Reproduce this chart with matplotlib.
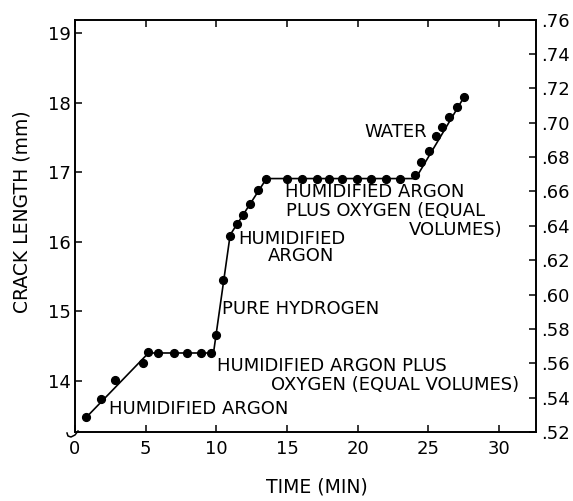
import matplotlib
matplotlib.use("Agg")
import matplotlib.pyplot as plt
from matplotlib.lines import Line2D

# ---- data ----
time_pts = [0.78, 1.81, 2.85, 4.80, 5.18, 5.89, 7.00, 7.95, 8.93, 9.60,
            9.97, 10.47, 10.96, 11.45, 11.86, 12.41, 12.95, 13.55,
            15.02, 16.05, 17.12, 18.00, 18.92, 19.99, 20.98, 21.99, 23.02,
            24.08, 24.50, 25.05, 25.58, 25.95, 26.47, 27.00, 27.55]
crack_pts = [13.48, 13.74, 14.01, 14.26, 14.41, 14.40, 14.40, 14.40, 14.40, 14.40,
             14.66, 15.45, 16.09, 16.26, 16.39, 16.54, 16.75, 16.91,
             16.91, 16.91, 16.91, 16.91, 16.91, 16.91, 16.91, 16.91, 16.91,
             16.96, 17.15, 17.31, 17.52, 17.65, 17.79, 17.94, 18.09]

# fitted piecewise line
fit_t = [0.78, 5.20, 9.80, 10.98, 13.55, 24.10, 27.55]
fit_c = [13.47, 14.40, 14.40, 16.10, 16.91, 16.91, 18.09]

x_ticks = [0, 5, 10, 15, 20, 25, 30]
y_ticks = [14, 15, 16, 17, 18, 19]
r_ticks = [0.52, 0.54, 0.56, 0.58, 0.60, 0.62, 0.64, 0.66, 0.68, 0.70, 0.72, 0.74, 0.76]
r_labels = ['.52', '.54', '.56', '.58', '.60', '.62', '.64', '.66', '.68', '.70', '.72', '.74', '.76']

plt.rcParams['font.family'] = ['DejaVu Sans']
FS = 13

W, H = 573, 501
fig = plt.figure(figsize=(W / 100, H / 100), dpi=100)
L, R, T, B = 75.0, 535.7, 19.5, 432.0
ax = fig.add_axes([L / W, 1 - B / H, (R - L) / W, (B - T) / H])

ax.plot(fit_t, fit_c, color='black', lw=1.2, zorder=2)
ax.plot(time_pts, crack_pts, 'o', color='black', ms=5.6, zorder=3)

ax.set_xlim(0, 32.6)
ax.set_ylim(13.263, 19.199)
ax.set_xticks(x_ticks)
ax.set_xticklabels([str(v) for v in x_ticks])
ax.set_yticks(y_ticks)
ax.set_yticklabels([str(v) for v in y_ticks])

for s in ax.spines.values():
    s.set_linewidth(1.2)

ax.tick_params(axis='x', direction='in', top=True, length=5, width=1.1,
               labelsize=FS, pad=6)
ax.tick_params(axis='y', direction='in', length=5, width=1.1,
               labelsize=FS, pad=3)

ax2 = ax.twinx()
ax2.set_ylim(0.52, 0.76)
ax2.set_yticks(r_ticks)
ax2.set_yticklabels(r_labels)
ax2.tick_params(axis='y', direction='in', length=5, width=1.1,
                labelsize=FS, pad=4)
for s in ax2.spines.values():
    s.set_linewidth(1.2)

# axis labels
fig.text(22 / W, 1 - 212 / H, 'CRACK LENGTH (mm)', rotation=90,
         ha='center', va='center', fontsize=13.5)
fig.text(317 / W, 1 - 487 / H, 'TIME (MIN)', ha='center', va='center',
         fontsize=13.5)

# annotations
kw = dict(fontsize=FS, va='center', ha='left', color='black')
ax.text(2.43, 13.60, 'HUMIDIFIED ARGON', **kw)
ax.text(10.08, 14.21, 'HUMIDIFIED ARGON PLUS', **kw)
ax.text(13.90, 13.94, 'OXYGEN (EQUAL VOLUMES)', **kw)
ax.text(10.42, 15.03, 'PURE HYDROGEN', **kw)
ax.text(11.58, 16.04, 'HUMIDIFIED', **kw)
ax.text(13.64, 15.79, 'ARGON', **kw)
ax.text(14.85, 16.71, 'HUMIDIFIED ARGON', **kw)
ax.text(14.92, 16.45, 'PLUS OXYGEN (EQUAL', **kw)
ax.text(23.61, 16.17, 'VOLUMES)', **kw)
ax.text(20.47, 17.58, 'WATER', **kw)

# small axis-break hook at the origin
hx = [3, 0, -4, -7, -8]
hy = [1, -3, -5, -4, -1]
fig.add_artist(Line2D([(L + dx) / W for dx in hx],
                      [1 - (B - dy) / H for dy in hy],
                      color='black', lw=1.1))

fig.savefig('out.png', dpi=100)
